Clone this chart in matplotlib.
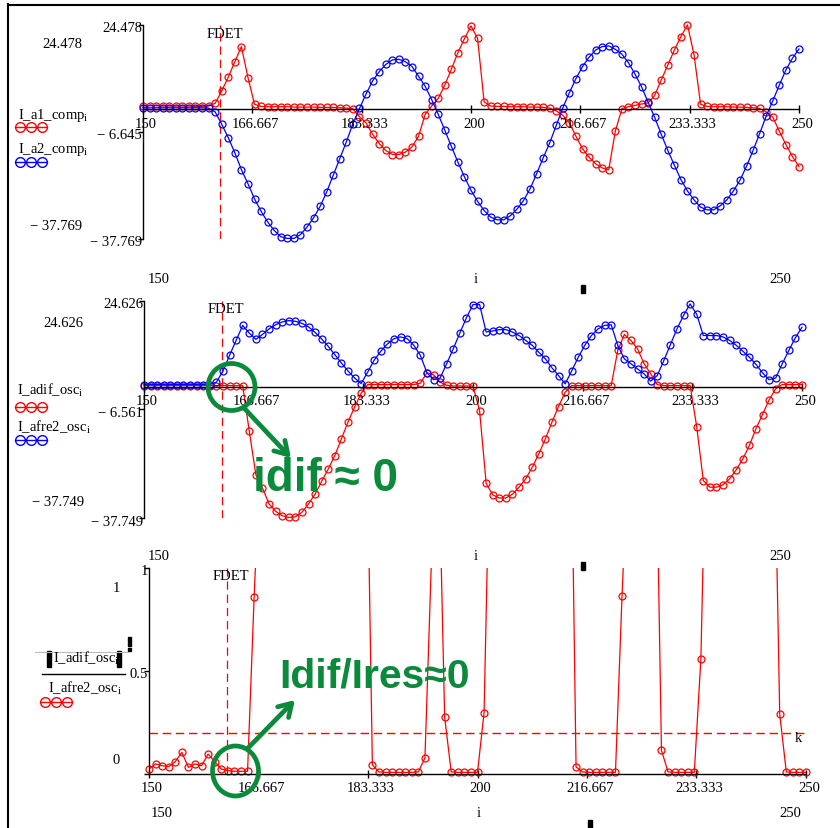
import numpy as np
import matplotlib
matplotlib.use("Agg")
import matplotlib.pyplot as plt
from matplotlib.patches import Ellipse, Rectangle
from matplotlib.transforms import ScaledTranslation

# index i (samples)
i_idx = np.arange(150, 251)

# panel 1
I_a1_comp = [1.0, 1.0, 1.0, 0.9, 0.9, 0.9, 0.9, 0.9, 0.8, 0.8, 0.9,
             1.7, 5.3, 9.3, 13.8, 18.2, 9.2, 1.4,
             0.8, 0.7, 0.7, 0.7, 0.7, 0.6, 0.6, 0.6, 0.6, 0.5, 0.5, 0.5, 0.4, 0.3, 0.1,
             -2.2, -4.0, -7.3, -10.0, -12.0, -13.2, -13.2, -12.5, -11.0, -7.9, -1.6, 0.9,
             3.1, 7.0, 11.6, 16.4, 20.5, 24.2, 20.6, 2.1, 0.9,
             0.8, 0.8, 0.7, 0.7, 0.7, 0.6, 0.6, 0.5, 0.3,
             -0.5, -1.8, -4.0, -7.9, -11.5, -14.0, -15.9, -17.1, -17.6, -6.4,
             0.1, 0.7, 1.1, 1.5, 1.8, 4.0, 8.5, 12.8, 17.2, 21.1, 24.5, 15.8, 1.4,
             0.8, 0.7, 0.7, 0.7, 0.6, 0.6, 0.5, 0.4, 0.2,
             -0.8, -2.3, -6.4, -10.3, -13.8, -16.7]
I_a2_comp = [0.4, 0.4, 0.4, 0.4, 0.4, 0.4, 0.4, 0.4, 0.4, 0.4, 0.3,
             -0.8, -4.4, -8.3, -12.7, -17.6, -21.7, -26.1, -29.7, -32.8, -35.3, -37.1,
             -37.6, -37.6, -36.5, -34.3, -31.6, -28.3, -24.1, -19.2, -14.4, -9.5, -4.2, 0.2,
             4.4, 8.2, 10.9, 13.0, 14.3, 14.5, 13.8, 12.4, 9.6, 6.7, 2.8, -1.5, -6.1,
             -10.8, -15.4, -19.7, -23.6, -26.8, -29.5, -31.4, -32.2, -32.2, -31.0, -29.1,
             -26.6, -23.2, -18.8, -14.2, -9.8, -4.7, 0.4, 4.8, 8.9, 12.4,
             15.1, 17.2, 18.2, 18.4, 17.4, 16.0, 13.5, 10.2, 6.5, 2.0, -2.4, -7.3,
             -12.0, -16.3, -20.5, -23.8, -26.4, -28.5, -29.3, -29.3, -28.1, -26.4,
             -23.8, -20.7, -16.6, -12.0, -7.1, -2.0, 2.4, 7.0, 11.4, 14.8, 17.5]

# panel 2
I_adif_osc = [0.3, 0.3, 0.3, 0.3, 0.3, 0.3, 0.3, 0.3, 0.3, 0.3, 0.3, 0.3, 0.3, 0.3, 0.3, 0.3,
              -12.8, -25.3, -29.1, -33.7, -35.8, -37.1, -37.6, -37.4, -36.1, -33.7, -30.9,
              -27.2, -23.7, -19.8, -15.0, -10.2, -5.9, -1.9,
              0.6, 0.6, 0.6, 0.6, 0.6, 0.6, 0.6, 0.6,
              1.0, 4.0, 3.4, 1.3, 0.4, 0.2, 0.2, 0.2, 0.2,
              -6.9, -27.8, -31.1, -32.0, -32.0, -30.9, -28.9, -26.5, -23.2, -19.3, -15.0,
              -10.2, -5.7, -1.6, 0.3, 0.3, 0.3, 0.3, 0.3, 0.3, 0.3,
              10.4, 15.0, 13.3, 10.9, 6.6, 3.7, 0.6, 0.3, 0.3, 0.3, 0.3, 0.3,
              -11.5, -27.0, -28.9, -28.9, -28.2, -26.5, -23.9, -20.8, -16.9, -12.1,
              -8.0, -3.8, -0.6, 0.6, 0.6, 0.6, 0.6]
I_afre2_osc = [0.6, 0.6, 0.6, 0.6, 0.6, 0.6, 0.6, 0.6, 0.6, 0.6, 0.6,
               1.3, 4.5, 9.0, 13.3, 17.6, 15.4, 13.6, 15.0, 16.6, 17.8, 18.6, 19.0,
               18.8, 18.2, 17.2, 15.6, 13.7, 11.6, 9.2, 6.8, 4.5, 2.5, 0.9,
               4.2, 7.7, 10.2, 12.3, 13.8, 14.3, 13.8, 11.9, 9.0, 4.0, 2.0, 2.5, 6.6,
               10.9, 15.4, 19.8, 23.6, 23.6, 15.7, 16.0, 16.4, 16.4, 15.7, 14.7, 13.3,
               11.9, 9.9, 8.0, 5.4, 3.2, 0.8, 4.5, 8.5, 11.9,
               14.7, 16.6, 17.6, 17.8, 11.9, 8.0, 6.6, 5.1, 3.7, 1.6, 3.2, 7.5, 12.1,
               16.6, 20.5, 23.8, 20.8, 14.7, 14.7, 14.7, 14.3, 13.3, 11.9, 10.2, 8.5,
               6.4, 4.0, 2.0, 2.5, 6.6, 10.4, 14.1, 17.1]

# panel 3 : |I_adif_osc| / I_afre2_osc
ratio = [0.024, 0.049, 0.040, 0.036, 0.060, 0.105, 0.032, 0.049, 0.040, 0.097, 0.060,
         0.024, 0.016, 0.013, 0.013, 0.013, 0.858,
         1.6, 1.9, 2.0, 2.0, 2.0, 2.0, 2.0, 2.0, 2.0, 2.0, 2.0, 2.0, 2.2, 2.2, 2.3, 2.4, 2.0,
         0.044, 0.010, 0.008, 0.008, 0.008, 0.008, 0.008, 0.010, 0.078, 1.05, 1.7, 0.275,
         0.010, 0.008, 0.008, 0.008, 0.008, 0.298,
         1.8, 2.0, 2.0, 2.0, 2.0, 2.0, 2.0, 2.0, 2.0, 2.0, 2.0, 2.0, 2.3,
         0.034, 0.010, 0.008, 0.008, 0.008, 0.008, 0.008, 0.866,
         1.6, 2.0, 2.1, 1.8, 2.0, 0.115, 0.010, 0.008, 0.008, 0.008, 0.008, 0.558,
         2.0, 2.0, 2.0, 2.0, 2.0, 2.0, 2.0, 2.0, 2.0, 2.0, 2.0, 0.291,
         0.010, 0.008, 0.008, 0.008]

FDET = 161.8
k = 0.2

x_ticks = [150, 166.667, 183.333, 200, 216.667, 233.333, 250]
x_labels = ["150", "166.667", "183.333", "200", "216.667", "233.333", "250"]

W, H = 840, 829
SERIF = "Liberation Serif"
FS = 10.5
plt.rcParams["mathtext.default"] = "regular"
plt.rcParams["font.family"] = SERIF
plt.rcParams["lines.scale_dashes"] = False

fig = plt.figure(figsize=(W / 100, H / 100), dpi=100)


def px(dx, dy):
    return ScaledTranslation(dx / 100, -dy / 100, fig.dpi_scale_trans)


def panel(x0, y0, x1, y1, ylo, yhi, yt, ytl):
    ax = fig.add_axes([x0 / W, 1 - y1 / H, (x1 - x0) / W, (y1 - y0) / H])
    ax.patch.set_alpha(0)
    ax.set_xlim(150, 250)
    ax.set_ylim(ylo, yhi)
    ax.spines["top"].set_visible(False)
    ax.spines["right"].set_visible(False)
    ax.spines["bottom"].set_position(("data", 0))
    ax.spines["left"].set_position(("data", 150))
    for s in ("bottom", "left"):
        ax.spines[s].set_linewidth(1.0)
    ax.set_xticks(x_ticks)
    ax.set_xticklabels([])
    ax.set_yticks(yt)
    ax.set_yticklabels([])
    ax.tick_params(axis="x", direction="inout", length=5.8, width=1.0)
    ax.tick_params(axis="y", direction="out", length=3.6, width=1.0)
    for t, lab in zip(x_ticks, x_labels):
        ax.text(t, 0, lab, transform=ax.transData + px(3, 14), ha="center",
                va="center", fontsize=FS)
    for t, lab in zip(yt, ytl):
        ax.text(150, t, lab, transform=ax.transData + px(-1, 3), ha="right",
                va="center", fontsize=FS)
    ax.axvline(FDET, color="#ff0000", lw=0.9, dashes=(6, 3.5))
    ax.text(FDET, yhi, "FDET", transform=ax.transData + px(4, 8), ha="center",
            va="center", fontsize=FS)
    return ax


mk = dict(marker="o", ms=5, mfc="none", mew=0.9, lw=0.9, clip_on=False)

# panel 1
ax1 = panel(143, 26, 799, 240, -37.769, 24.478, [-37.769, -6.645, 24.478],
            ["\u2212 37.769", "\u2212 6.645", "24.478"])
ax1.plot(i_idx, I_a1_comp, color="red", **mk)
ax1.plot(i_idx, I_a2_comp, color="blue", **mk)

# panel 2
ax2 = panel(144, 302, 802, 519, -37.749, 24.626, [-37.749, -6.561, 24.626],
            ["\u2212 37.749", "\u2212 6.561", "24.626"])
ax2.plot(i_idx, I_adif_osc, color="red", **mk)
ax2.plot(i_idx, I_afre2_osc, color="blue", **mk)

# panel 3
ax3 = panel(149, 569, 806, 775, 0, 1, [0, 0.5, 1], ["", "0.5", "1"])
r = np.array(ratio)
ax3.plot(i_idx, r, color="red", lw=0.9)
ax3.plot(i_idx, np.where(r <= 1, r, np.nan), color="red", ls="none", marker="o",
         ms=5, mfc="none", mew=0.9, clip_on=False)
ax3.axhline(k, color="#ff0000", lw=1.0, dashes=(6, 3.5), snap=True)
ax3.text(250, k, "k", transform=ax3.transData + px(-8, 5), ha="center",
         va="center", fontsize=FS)

# overlay in pixel coordinates for Mathcad labels and annotations
ov = fig.add_axes([0, 0, 1, 1])
ov.set_xlim(0, W)
ov.set_ylim(H, 0)
ov.axis("off")
ov.patch.set_alpha(0)

ov.plot([8, 8], [5, H], color="black", lw=1.5)
ov.plot([8, W], [6, 6], color="black", lw=1.5)


def txt(x, y, s, **kw):
    kw.setdefault("fontsize", FS)
    kw.setdefault("va", "center")
    ov.text(x, y, s, **kw)


def glyph(y, color, x0=15):
    ov.plot([x0, x0 + 32], [y, y], color=color, lw=1.0)
    ov.plot([x0 + 5, x0 + 16, x0 + 27], [y, y, y], ls="none", marker="o", ms=7,
            mfc="none", mec=color, mew=1.0)


# panel 1 labels
txt(42, 44, "24.478")
txt(30, 226, "\u2212 37.769")
txt(159, 279, "150", ha="center")
txt(476, 279, "i", ha="center")
txt(780, 279, "250", ha="center")
txt(18, 115, "I_a1_comp$_{i}$")
glyph(128, "red")
txt(18, 149, "I_a2_comp$_{i}$")
glyph(163, "blue")

# panel 2 labels
txt(43, 323, "24.626")
txt(32, 503, "\u2212 37.749")
txt(159, 557, "150", ha="center")
txt(476, 557, "i", ha="center")
txt(780, 557, "250", ha="center")
txt(17, 390, "I_adif_osc$_{i}$")
glyph(408, "red")
txt(17, 427, "I_afre2_osc$_{i}$")
glyph(441, "blue")

# panel 3 labels
txt(116, 588, "1", ha="center")
txt(116, 760, "0", ha="center")
txt(162, 814, "150", ha="center")
txt(479, 814, "i", ha="center")
txt(790, 814, "250", ha="center")
ov.plot([35, 128], [653, 653], color="#bbbbbb", lw=0.8)
txt(86, 658, "I_adif_osc$_{i}$", ha="center")
ov.add_patch(Rectangle((47, 652), 4, 16, color="black"))
ov.add_patch(Rectangle((117, 652), 4, 16, color="black"))
ov.plot([42, 125], [675, 675], color="black", lw=1.0)
txt(85, 688, "I_afre2_osc$_{i}$", ha="center")
glyph(703, "red", x0=40)
ov.add_patch(Rectangle((128, 638), 3, 9, color="black"))
ov.add_patch(Rectangle((128, 649), 3, 3, color="black"))

for (mx, my) in [(583, 290), (583, 567), (590, 825)]:
    ov.add_patch(Rectangle((mx - 2, my - 4), 4, 8, color="black"))

# green annotations
GREEN = "#0b8a3c"
ov.add_patch(Ellipse((231.5, 388), 47, 47, fill=False, ec=GREEN, lw=3.4))
ov.annotate("", xy=(291, 459), xytext=(244, 409),
            arrowprops=dict(arrowstyle="->,head_length=0.9,head_width=0.55",
                            color=GREEN, lw=3.4, shrinkA=0, shrinkB=0))
ov.text(253, 479, "idif \u2248 0", fontsize=33, fontweight="bold", color=GREEN,
        family="Liberation Sans", va="center", ha="left")

ov.add_patch(Ellipse((235.5, 772), 46, 50, fill=False, ec=GREEN, lw=3.4))
ov.annotate("", xy=(295, 701), xytext=(248, 749),
            arrowprops=dict(arrowstyle="->,head_length=0.9,head_width=0.55",
                            color=GREEN, lw=3.4, shrinkA=0, shrinkB=0))
ov.text(279, 676, "Idif/Ires\u22480", fontsize=29.5, fontweight="bold", color=GREEN,
        family="Liberation Sans", va="center", ha="left")

fig.savefig("out.png", dpi=100)
